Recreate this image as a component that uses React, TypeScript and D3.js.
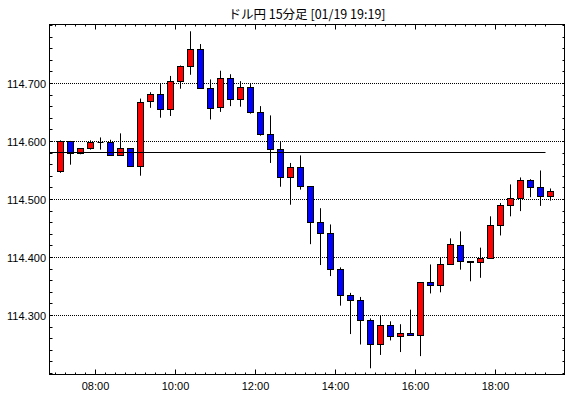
import { useEffect, useRef } from "react";
import * as d3 from "d3";

const W = 570;
const H = 398;
const PLOT = { left: 49.5, right: 564.5, top: 24.5, bottom: 374.5 };

const TITLE = "ドル円 15分足 [01/19 19:19]";

// 15-minute candles (start time of each bar)
const TIMES = [
  "07:00", "07:15", "07:30", "07:45", "08:00", "08:15", "08:30", "08:45",
  "09:00", "09:15", "09:30", "09:45", "10:00", "10:15", "10:30", "10:45",
  "11:00", "11:15", "11:30", "11:45", "12:00", "12:15", "12:30", "12:45",
  "13:00", "13:15", "13:30", "13:45", "14:00", "14:15", "14:30", "14:45",
  "15:00", "15:15", "15:30", "15:45", "16:00", "16:15", "16:30", "16:45",
  "17:00", "17:15", "17:30", "17:45", "18:00", "18:15", "18:30", "18:45",
  "19:00", "19:15",
];
const OPEN = [
  114.548, 114.600, 114.579, 114.588, 114.598, 114.598, 114.576, 114.588,
  114.557, 114.669, 114.681, 114.655, 114.703, 114.729, 114.759, 114.691,
  114.659, 114.709, 114.672, 114.693, 114.650, 114.612, 114.586, 114.538,
  114.555, 114.523, 114.461, 114.442, 114.379, 114.334, 114.326, 114.292,
  114.250, 114.283, 114.264, 114.269, 114.266, 114.357, 114.352, 114.388,
  114.421, 114.393, 114.391, 114.398, 114.455, 114.489, 114.502, 114.533,
  114.521, 114.505,
];
const HIGH = [
  114.602, 114.601, 114.588, 114.602, 114.607, 114.603, 114.614, 114.588,
  114.674, 114.685, 114.699, 114.713, 114.731, 114.790, 114.768, 114.707,
  114.722, 114.716, 114.704, 114.699, 114.661, 114.645, 114.599, 114.563,
  114.576, 114.523, 114.485, 114.457, 114.383, 114.339, 114.332, 114.295,
  114.300, 114.290, 114.285, 114.310, 114.357, 114.388, 114.400, 114.433,
  114.445, 114.393, 114.417, 114.471, 114.494, 114.526, 114.538, 114.535,
  114.550, 114.519,
];
const LOW = [
  114.546, 114.560, 114.578, 114.586, 114.586, 114.576, 114.576, 114.557,
  114.541, 114.658, 114.641, 114.644, 114.691, 114.715, 114.691, 114.638,
  114.651, 114.661, 114.660, 114.648, 114.610, 114.563, 114.522, 114.491,
  114.517, 114.423, 114.387, 114.368, 114.317, 114.268, 114.250, 114.209,
  114.232, 114.257, 114.237, 114.266, 114.230, 114.338, 114.340, 114.388,
  114.379, 114.359, 114.365, 114.398, 114.438, 114.471, 114.480, 114.504,
  114.489, 114.498,
];
const CLOSE = [
  114.600, 114.579, 114.588, 114.598, 114.598, 114.576, 114.588, 114.557,
  114.668, 114.681, 114.655, 114.703, 114.729, 114.759, 114.691, 114.657,
  114.709, 114.672, 114.693, 114.650, 114.612, 114.586, 114.538, 114.555,
  114.523, 114.461, 114.442, 114.379, 114.334, 114.326, 114.292, 114.250,
  114.283, 114.264, 114.269, 114.266, 114.357, 114.352, 114.388, 114.423,
  114.393, 114.392, 114.398, 114.455, 114.489, 114.502, 114.533, 114.521,
  114.505, 114.513,
];

const REF_PRICE = 114.581;
const REF_END = "19:15";

const Y_TICKS = [114.3, 114.4, 114.5, 114.6, 114.7];
const Y_MINOR = [
  114.2, 114.22, 114.24, 114.26, 114.28, 114.3, 114.32, 114.34, 114.36, 114.38,
  114.4, 114.42, 114.44, 114.46, 114.48, 114.5, 114.52, 114.54, 114.56, 114.58,
  114.6, 114.62, 114.64, 114.66, 114.68, 114.7, 114.72, 114.74, 114.76, 114.78, 114.8,
];
const X_LABELS = ["08:00", "10:00", "12:00", "14:00", "16:00", "18:00"];

// minutes since midnight, visible window
const X_DOMAIN = [411, 1183.5];
const Y_DOMAIN = [114.1983, 114.8017];

const UP = "#ff0000";
const DOWN = "#0000ff";
const LABEL_FONT = "'Liberation Sans', Arial, sans-serif";

function toMin(s: string) {
  const [h, m] = s.split(":").map(Number);
  return h * 60 + m;
}

const crisp = (v: number) => Math.round(v - 0.5) + 0.5;

export default function App() {
  const svgRef = useRef<SVGSVGElement>(null);

  useEffect(() => {
    const svg = d3.select(svgRef.current);
    svg.selectAll("*").remove();

    const x = d3.scaleLinear().domain(X_DOMAIN).range([PLOT.left, PLOT.right]);
    const y = d3.scaleLinear().domain(Y_DOMAIN).range([PLOT.bottom, PLOT.top]);

    svg.append("rect").attr("width", W).attr("height", H).attr("fill", "#fff");

    svg
      .append("text")
      .attr("x", (PLOT.left + PLOT.right) / 2)
      .attr("y", 19)
      .attr("text-anchor", "middle")
      .attr("font-family", "'Noto Sans CJK JP', sans-serif")
      .attr("font-size", 12.5)
      .attr("fill", "#000")
      .text(TITLE);

    // dotted grid (start on a whole pixel so the 1px dots stay sharp)
    const grid = svg.append("g");
    Y_TICKS.forEach((v) => {
      const yy = crisp(y(v));
      grid
        .append("line")
        .attr("x1", PLOT.left + 0.5)
        .attr("x2", PLOT.right)
        .attr("y1", yy)
        .attr("y2", yy)
        .attr("stroke", "#000")
        .attr("stroke-dasharray", "1,1")
        .attr("shape-rendering", "crispEdges");
    });

    // candles
    const candles = TIMES.map((t, i) => ({
      t: toMin(t),
      o: OPEN[i],
      h: HIGH[i],
      l: LOW[i],
      c: CLOSE[i],
    }));
    const cg = svg.append("g");
    candles.forEach((d) => {
      const cx = crisp(x(d.t + 7.5));
      cg.append("line")
        .attr("x1", cx)
        .attr("x2", cx)
        .attr("y1", y(d.h))
        .attr("y2", y(d.l))
        .attr("stroke", "#000");
      const top = crisp(y(Math.max(d.o, d.c)));
      const bot = crisp(y(Math.min(d.o, d.c)));
      if (bot - top < 0.5) {
        cg.append("line")
          .attr("x1", cx - 3)
          .attr("x2", cx + 3)
          .attr("y1", top)
          .attr("y2", top)
          .attr("stroke", "#000");
      } else {
        cg.append("rect")
          .attr("x", cx - 3)
          .attr("y", top)
          .attr("width", 6)
          .attr("height", bot - top)
          .attr("fill", d.c >= d.o ? UP : DOWN)
          .attr("stroke", "#000");
      }
    });

    // reference price line
    const ry = crisp(y(REF_PRICE));
    svg
      .append("line")
      .attr("x1", PLOT.left)
      .attr("x2", crisp(x(toMin(REF_END))))
      .attr("y1", ry)
      .attr("y2", ry)
      .attr("stroke", "#000");

    // frame
    svg
      .append("rect")
      .attr("x", PLOT.left)
      .attr("y", PLOT.top)
      .attr("width", PLOT.right - PLOT.left)
      .attr("height", PLOT.bottom - PLOT.top)
      .attr("fill", "none")
      .attr("stroke", "#000");

    // y minor ticks (left + right)
    const ticks = svg.append("g").attr("stroke", "#000");
    Y_MINOR.forEach((v) => {
      const yy = crisp(y(v));
      if (yy <= PLOT.top || yy >= PLOT.bottom) return;
      ticks.append("line").attr("x1", PLOT.left).attr("x2", PLOT.left + 3).attr("y1", yy).attr("y2", yy);
      ticks.append("line").attr("x1", PLOT.right - 2).attr("x2", PLOT.right).attr("y1", yy).attr("y2", yy);
    });

    // x ticks (top + bottom)
    const majors = new Set(X_LABELS.map(toMin));
    TIMES.forEach((t) => {
      const m = toMin(t);
      const xx = crisp(x(m));
      const len = majors.has(m) ? 5 : 2;
      ticks.append("line").attr("x1", xx).attr("x2", xx).attr("y1", PLOT.bottom).attr("y2", PLOT.bottom - len);
      ticks.append("line").attr("x1", xx).attr("x2", xx).attr("y1", PLOT.top).attr("y2", PLOT.top + len);
    });

    // labels
    svg
      .append("g")
      .selectAll("text")
      .data(Y_TICKS)
      .join("text")
      .attr("x", 46)
      .attr("y", (d) => crisp(y(d)) + 4)
      .attr("text-anchor", "end")
      .attr("font-family", LABEL_FONT)
      .attr("font-size", 11)
      .attr("fill", "#000")
      .text((d) => d.toFixed(3));

    svg
      .append("g")
      .selectAll("text")
      .data(X_LABELS)
      .join("text")
      .attr("x", (d) => crisp(x(toMin(d))))
      .attr("y", 390)
      .attr("text-anchor", "middle")
      .attr("font-family", LABEL_FONT)
      .attr("font-size", 11)
      .attr("fill", "#000")
      .text((d) => d);
  }, []);

  return (
    <svg
      ref={svgRef}
      width={W}
      height={H}
      style={{ position: "absolute", left: 0, top: 0, display: "block" }}
    />
  );
}
